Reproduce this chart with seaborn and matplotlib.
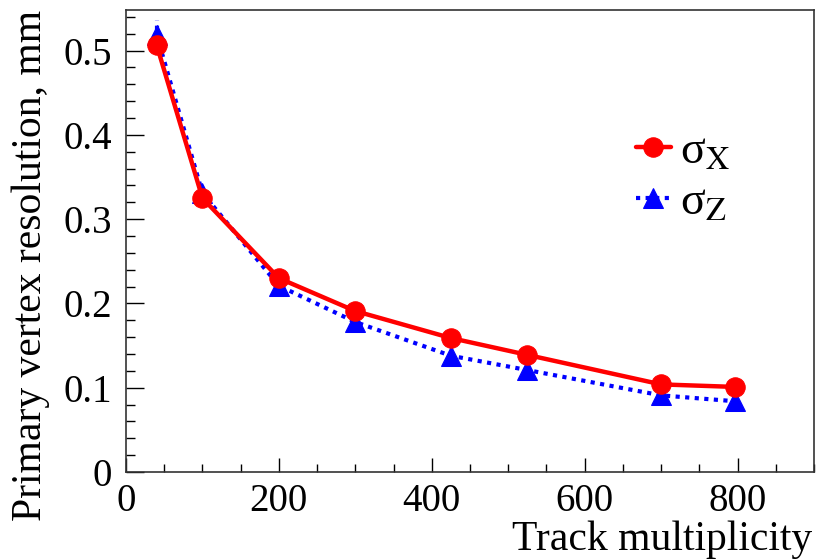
import numpy as np
import pandas as pd
import matplotlib
matplotlib.use("Agg")
import matplotlib.pyplot as plt
import seaborn as sns
from matplotlib.ticker import MultipleLocator

# data
multiplicity = [40, 100, 200, 300, 425, 525, 700, 797]
sigma_x = [0.507, 0.325, 0.230, 0.191, 0.159, 0.139, 0.104, 0.101]
sigma_z = [0.519, 0.331, 0.221, 0.178, 0.138, 0.121, 0.091, 0.084]
sigma_z_err = [0.017, 0.006, 0.005, 0.004, 0.004, 0.004, 0.003, 0.003]

df = pd.DataFrame({"mult": multiplicity, "sx": sigma_x, "sz": sigma_z, "sz_err": sigma_z_err})

sns.set_theme(style="ticks")
plt.rcParams['font.family'] = ['Liberation Serif', 'DejaVu Serif']
plt.rcParams['mathtext.fontset'] = 'stix'
plt.rcParams['text.color'] = 'black'
plt.rcParams['axes.labelcolor'] = 'black'

fig = plt.figure(figsize=(8.17, 5.6), dpi=100)
ax = fig.add_axes([0.1542, 0.157, 0.8421, 0.825])

# blue dotted series (drawn first, red on top)
ax.vlines(df["mult"], df["sz"] - df["sz_err"], df["sz"] + df["sz_err"],
          color="#0000ff", lw=3, linestyles=(0, (1, 1.3)))
sns.lineplot(data=df, x="mult", y="sz", ax=ax, color="#0000ff", lw=3,
             linestyle=(0, (1, 1.3)), marker="^", markersize=14,
             markeredgecolor="#0000ff", label="σ$_{\\mathrm{Z}}$", sort=False)
sns.lineplot(data=df, x="mult", y="sx", ax=ax, color="#ff0000", lw=3.2,
             marker="o", markersize=14, markeredgecolor="#ff0000",
             label="σ$_{\\mathrm{X}}$", sort=False)

ax.set_xlim(0, 900)
ax.set_ylim(0, 0.548)
ax.xaxis.set_major_locator(MultipleLocator(200))
ax.xaxis.set_minor_locator(MultipleLocator(50))
ax.yaxis.set_major_locator(MultipleLocator(0.1))
ax.yaxis.set_minor_locator(MultipleLocator(0.02))
ax.set_yticks([0, 0.1, 0.2, 0.3, 0.4, 0.5])
ax.set_yticklabels(["0", "0.1", "0.2", "0.3", "0.4", "0.5"])

ax.tick_params(axis="both", which="both", direction="in", labelsize=28, colors="black")
ax.tick_params(axis="x", which="major", length=10, width=1, pad=8)
ax.tick_params(axis="x", which="minor", length=6, width=1)
ax.tick_params(axis="y", which="major", length=13, width=1, pad=10)
ax.tick_params(axis="y", which="minor", length=6.5, width=1)

for s in ax.spines.values():
    s.set_color("#333333")
    s.set_linewidth(1.2)

ax.set_xlabel("Track multiplicity", fontsize=30, loc="right", color="black")
ax.set_ylabel("Primary vertex resolution, mm", fontsize=30, loc="top", color="black")
ax.xaxis.set_label_coords(0.998, -0.105)
ax.yaxis.set_label_coords(-0.11, 1.0)

handles, labels = ax.get_legend_handles_labels()
ax.legend(handles[::-1], labels[::-1], loc="upper left", bbox_to_anchor=(0.715, 0.78),
          frameon=False, fontsize=33, handlelength=0.75, handletextpad=0.2,
          labelspacing=0.2, borderaxespad=0)

plt.savefig("out.png", dpi=100)
